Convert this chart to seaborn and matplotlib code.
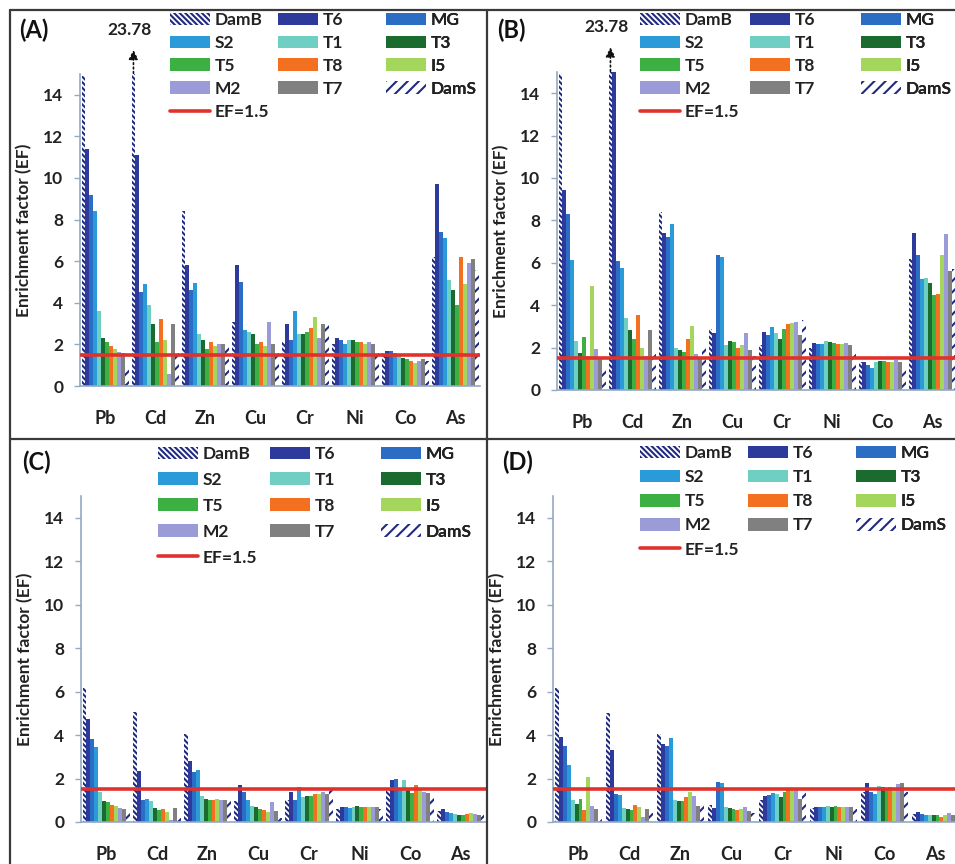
import numpy as np
import pandas as pd
import seaborn as sns
import matplotlib.pyplot as plt
from matplotlib.patches import Patch
from matplotlib.lines import Line2D

# elements and sampling sites
elements = ['Pb', 'Cd', 'Zn', 'Cu', 'Cr', 'Ni', 'Co', 'As']
sites = ['DamB', 'T6', 'MG', 'S2', 'T1', 'T3', 'T5', 'T8', 'I5', 'M2', 'T7', 'DamS']
site_colors = ['#ffffff', '#2e3a9b', '#2b6cc4', '#2a9ad8', '#6ecfc2', '#1b6b2f',
               '#3cb043', '#f37021', '#a4d65e', '#9b9bd8', '#808080', '#ffffff']
hatched = {'DamB': '\\\\\\\\\\\\', 'DamS': '///'}

# EF values, one row per site (Pb, Cd, Zn, Cu, Cr, Ni, Co, As)
ef_a = [[14.9, 23.78, 8.4, 3.1, 2.1, 2.0, 1.6, 6.2],
        [11.4, 11.1, 5.8, 5.8, 3.0, 2.3, 1.7, 9.7],
        [9.2, 4.5, 4.6, 5.0, 2.2, 2.2, 1.7, 7.4],
        [8.4, 4.9, 4.95, 2.7, 3.6, 2.0, 1.6, 7.1],
        [3.6, 3.9, 2.5, 2.6, 2.5, 2.2, 1.5, 5.1],
        [2.3, 3.0, 2.2, 2.5, 2.5, 2.2, 1.35, 4.6],
        [2.1, 2.1, 1.8, 2.0, 2.6, 2.1, 1.3, 3.9],
        [1.9, 3.2, 2.1, 2.1, 2.8, 2.1, 1.2, 6.2],
        [1.8, 2.2, 1.9, 1.9, 3.3, 2.0, 1.1, 4.9],
        [1.65, 0.6, 2.0, 3.1, 2.3, 2.1, 1.2, 5.9],
        [1.6, 3.0, 2.0, 2.0, 3.0, 2.0, 1.3, 6.1],
        [1.0, 1.7, 2.0, 1.6, 3.1, 1.8, 1.2, 5.6]]

ef_b = [[14.9, 23.78, 8.4, 2.9, 2.1, 2.0, 1.3, 6.2],
        [9.45, 15.0, 7.4, 2.7, 2.75, 2.2, 1.3, 7.4],
        [8.3, 6.1, 7.2, 6.35, 2.6, 2.15, 1.2, 6.35],
        [6.15, 5.75, 7.85, 6.25, 2.95, 2.15, 1.05, 5.25],
        [2.3, 3.4, 2.0, 2.1, 2.7, 2.3, 1.3, 5.3],
        [1.75, 2.85, 1.9, 2.3, 2.4, 2.25, 1.35, 5.05],
        [2.5, 2.4, 1.8, 2.25, 2.9, 2.2, 1.35, 4.5],
        [1.6, 3.55, 2.4, 2.0, 3.1, 2.15, 1.3, 4.55],
        [4.9, 2.0, 3.0, 2.1, 3.15, 2.15, 1.3, 6.35],
        [1.95, 1.6, 1.7, 2.7, 3.2, 2.2, 1.4, 7.35],
        [1.5, 2.85, 1.5, 1.9, 2.6, 2.1, 1.3, 5.6],
        [1.0, 1.7, 2.1, 1.6, 3.3, 1.8, 1.1, 5.7]]

ef_c = [[6.15, 5.05, 4.05, 0.95, 1.0, 0.6, 1.5, 0.5],
        [4.75, 2.35, 2.8, 1.7, 1.4, 0.7, 1.95, 0.6],
        [3.8, 1.0, 2.3, 1.4, 1.0, 0.7, 2.0, 0.45],
        [3.45, 1.05, 2.4, 1.0, 1.6, 0.65, 1.45, 0.4],
        [1.4, 0.95, 1.2, 0.75, 1.15, 0.7, 1.95, 0.35],
        [0.95, 0.65, 1.05, 0.7, 1.2, 0.72, 1.55, 0.3],
        [0.9, 0.55, 1.0, 0.6, 1.2, 0.7, 1.35, 0.3],
        [0.8, 0.6, 1.0, 0.55, 1.3, 0.7, 1.7, 0.35],
        [0.75, 0.45, 1.05, 0.45, 1.3, 0.68, 1.45, 0.4],
        [0.65, 0.1, 1.0, 0.9, 1.4, 0.7, 1.4, 0.35],
        [0.6, 0.65, 1.0, 0.5, 1.3, 0.7, 1.35, 0.3],
        [0.45, 0.2, 1.0, 0.2, 1.45, 0.6, 1.1, 0.35]]

ef_d = [[6.15, 5.0, 4.05, 0.8, 1.0, 0.65, 1.4, 0.35],
        [3.9, 3.3, 3.6, 0.65, 1.2, 0.7, 1.8, 0.45],
        [3.5, 1.3, 3.5, 1.85, 1.25, 0.7, 1.4, 0.35],
        [2.6, 1.25, 3.85, 1.8, 1.35, 0.7, 1.3, 0.3],
        [1.0, 0.65, 1.0, 0.7, 1.3, 0.72, 1.65, 0.3],
        [0.85, 0.6, 0.95, 0.65, 1.15, 0.7, 1.6, 0.3],
        [1.05, 0.55, 0.95, 0.6, 1.4, 0.72, 1.55, 0.3],
        [0.55, 0.8, 1.15, 0.55, 1.45, 0.7, 1.6, 0.25],
        [2.05, 0.7, 1.4, 0.6, 1.5, 0.7, 1.55, 0.3],
        [0.75, 0.25, 1.2, 0.7, 1.5, 0.7, 1.75, 0.4],
        [0.6, 0.6, 0.75, 0.5, 1.05, 0.68, 1.8, 0.3],
        [0.2, 0.4, 0.9, 0.4, 1.45, 0.6, 1.4, 0.35]]

ef_limit = 1.5
cd_damb_label = '23.78'

sns.set_theme(style='white')
plt.rcParams['font.family'] = ['Lato', 'DejaVu Sans']
plt.rcParams['font.weight'] = 'bold'
plt.rcParams['hatch.linewidth'] = 1.5

navy = '#1f2a80'
axis_col = '#94a9c4'
W, H = 955, 864
fig = plt.figure(figsize=(W / 100, H / 100), dpi=100)


def px_box(left, right, y0, y15):
    return [left / W, 1 - y0 / H, (right - left) / W, (y0 - y15) / H]


# label, data, axes box, label pos, legend column x, legend top y, row gap, arrow?
panels = [
    ('(A)', ef_a, px_box(80, 480, 386, 74), (34, 30), [170, 278, 386], 12, 0.4, True),
    ('(B)', ef_b, px_box(557, 957, 390, 72), (511, 30), [640, 750, 861], 12, 0.4, True),
    ('(C)', ef_c, px_box(81, 486, 822, 496), (36, 462), [158, 270, 381], 446, 0.57, False),
    ('(D)', ef_d, px_box(553, 961, 822, 496), (518, 462), [640, 748, 856], 445, 0.47, False),
]

for label, data, box, lab_xy, leg_x, leg_y, gap, arrow in panels:
    df = pd.DataFrame(data, index=sites, columns=elements)
    df = df.reset_index().melt(id_vars='index', var_name='element', value_name='EF')
    df = df.rename(columns={'index': 'site'})

    ax = fig.add_axes(box)
    sns.barplot(data=df, x='element', y='EF', hue='site', hue_order=sites,
                palette=site_colors, width=0.94, saturation=1, linewidth=0,
                legend=False, ax=ax)

    for site, cont in zip(sites, ax.containers):
        if site in hatched:
            for bar in cont:
                bar.set_facecolor('white')
                bar.set_edgecolor(navy)
                bar.set_hatch(hatched[site])
                bar.set_linewidth(0)

    ax.axhline(ef_limit, color='#e0312b', lw=2.6, zorder=5)

    ax.set_ylim(0, 15)
    ax.set_xlim(-0.5, len(elements) - 0.5)
    ax.set_yticks(np.arange(0, 15, 2))
    ax.set_xticks(np.arange(-0.5, len(elements), 1), minor=True)
    ax.tick_params(axis='x', which='major', length=0, pad=17, labelsize=13,
                   labelcolor='#222222')
    ax.tick_params(axis='x', which='minor', length=5, color=axis_col, width=1)
    ax.tick_params(axis='y', length=4, color=axis_col, width=1, pad=8,
                   labelsize=12.5, labelcolor='#222222', left=True)
    for t in ax.get_xticklabels() + ax.get_yticklabels():
        t.set_fontweight('bold')
    ax.set_xlabel('')
    ax.set_ylabel('Enrichment factor (EF)', fontsize=12.5, fontweight='bold',
                  color='#222222', labelpad=8)
    sns.despine(ax=ax)
    for s in ['left', 'bottom']:
        ax.spines[s].set_color(axis_col)
        ax.spines[s].set_linewidth(1.2)

    if arrow:
        bar = ax.containers[0][1]
        xb = bar.get_x() + bar.get_width() / 2
        ax.annotate('', xy=(xb, 16.3), xytext=(xb, 14.9),
                    arrowprops=dict(arrowstyle='-|>', color='#111111', lw=1.2,
                                    mutation_scale=14, ls=':'),
                    annotation_clip=False)
        ax.text(xb - 0.08, 17.1, cd_damb_label, ha='center', va='center',
                fontsize=12.5, fontweight='bold', color='#222222', clip_on=False)

    fig.text(lab_xy[0] / W, 1 - lab_xy[1] / H, label, ha='center', va='center',
             fontsize=17, fontweight='bold', color='#111111')

    # legend: three columns filled row by row, EF line under the first column
    handles = []
    for site, col in zip(sites, site_colors):
        if site in hatched:
            handles.append(Patch(facecolor='white', edgecolor=navy,
                                 hatch=hatched[site], lw=0))
        else:
            handles.append(Patch(facecolor=col, lw=0))
    ef_handle = Line2D([], [], color='#e0312b', lw=2.6)
    for c in range(3):
        hs = handles[c::3]
        ls = sites[c::3]
        if c == 0:
            hs = hs + [ef_handle]
            ls = ls + ['EF=1.5']
        leg = ax.legend(hs, ls, loc='upper left',
                        bbox_to_anchor=(leg_x[c] / W, 1 - leg_y / H),
                        bbox_transform=fig.transFigure, frameon=False,
                        handlelength=2.3, handleheight=0.75,
                        handletextpad=0.25, labelspacing=gap, borderpad=0,
                        borderaxespad=0, prop={'weight': 'bold', 'size': 12.5})
        for t in leg.get_texts():
            t.set_color('#222222')
        ax.add_artist(leg)

# panel frame lines
frame = dict(color='#3a3a3a', lw=1.6)
fig.add_artist(Line2D([10 / W, 10 / W], [0, 1 - 10 / H], transform=fig.transFigure, **frame))
fig.add_artist(Line2D([10 / W, 1], [1 - 10 / H, 1 - 10 / H], transform=fig.transFigure, **frame))
fig.add_artist(Line2D([487 / W, 487 / W], [0, 1 - 10 / H], transform=fig.transFigure, **frame))
fig.add_artist(Line2D([10 / W, 1], [1 - 439 / H, 1 - 439 / H], transform=fig.transFigure, **frame))

fig.savefig('out.png', dpi=100, facecolor='white')
